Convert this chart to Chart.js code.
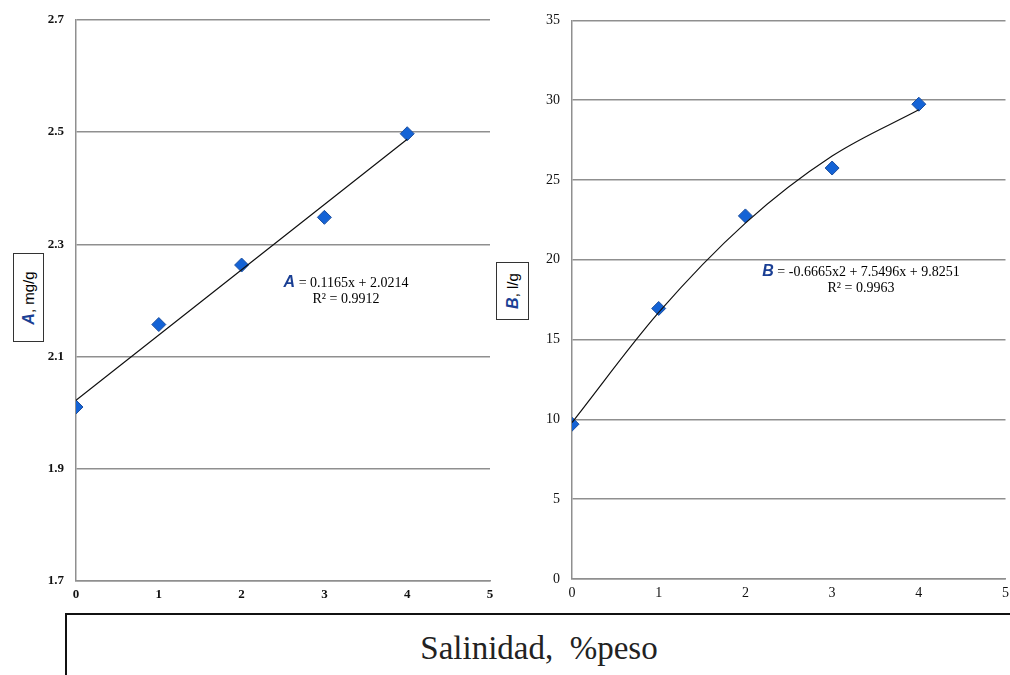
<!DOCTYPE html>
<html>
<head>
<meta charset="utf-8">
<script src="https://cdn.jsdelivr.net/npm/chart.js@4/dist/chart.umd.min.js"></script>
<style>
  body { margin: 0; background: #fff; width: 1010px; height: 675px; overflow: hidden; position: relative; }
  .box { position: absolute; }
  .ytitle { position: absolute; border: 1px solid #333; background: #fff; font-family: "Liberation Sans", Arial, sans-serif; font-size: 15px; }
  .ytitle span.in { position: absolute; left: 50%; top: 50%; transform: translate(-50%, -50%) rotate(-90deg); white-space: nowrap; }
  .sym { color: #1a3f94; font-weight: bold; font-style: italic; font-size: 16px; }
  .eq { position: absolute; font-family: "Liberation Serif", "Times New Roman", serif; font-size: 14px; text-align: center; white-space: nowrap; line-height: 16px; }
  #xbox { position: absolute; left: 65px; top: 613px; width: 960px; height: 70px; border-top: 2px solid #111; border-left: 2px solid #111; }
  #xlabel { position: absolute; left: 0; top: 630px; width: 1078px; text-align: center; font-family: "Liberation Serif", "Times New Roman", serif; font-size: 33px; color: #222; }
</style>
</head>
<body>
<div class="box" style="left:0;top:0;width:505px;height:612px"><canvas id="chartA"></canvas></div>
<div class="box" style="left:505px;top:0;width:510px;height:612px"><canvas id="chartB"></canvas></div>

<div class="ytitle" style="left:13px;top:253px;width:29px;height:87px"><span class="in"><span class="sym">A</span>, mg/g</span></div>
<div class="ytitle" style="left:496px;top:262px;width:31px;height:56px"><span class="in"><span class="sym">B</span>, l/g</span></div>

<div class="eq" style="left:270px;top:274px;width:152px"><span class="sym" style="font-family:'Liberation Sans',sans-serif">A</span> = 0.1165x + 2.0214<br>R² = 0.9912</div>
<div class="eq" style="left:742px;top:263px;width:238px"><span class="sym" style="font-family:'Liberation Sans',sans-serif">B</span> = -0.6665x2 + 7.5496x + 9.8251<br>R² = 0.9963</div>

<div id="xbox"></div>
<div id="xlabel">Salinidad,&nbsp; %peso</div>

<script>
const salinity = [0, 1, 2, 3, 4];
const valuesA = [2.01, 2.157, 2.263, 2.348, 2.497];
const valuesB = [9.7, 16.95, 22.75, 25.75, 29.75];
// trend lines
const trendXA = [0, 4];
const trendA = [2.022, 2.487];
const trendXB = [0, 1, 2, 3, 4];
const trendB = [9.8, 16.7, 22.3, 26.5, 29.4];
const ticksA = [1.7, 1.9, 2.1, 2.3, 2.5, 2.7];
const ticksB = [0, 5, 10, 15, 20, 25, 30, 35];

const blue = '#1463d6';
const gridCol = '#8f8f8f';

function pts(xs, ys) { return xs.map((x, i) => ({ x: x, y: ys[i] })); }

function makeChart(id, vals, tx, ty, yticks, yFmt, yW, xH, padR, tickFont) {
    return new Chart(document.getElementById(id), {
        type: 'scatter',
        data: {
            datasets: [
                {
                    type: 'line',
                    data: pts(tx, ty),
                    borderColor: '#111',
                    borderWidth: 1.2,
                    pointRadius: 0,
                    cubicInterpolationMode: 'monotone',
                    fill: false,
                },
                {
                    data: pts(salinity, vals),
                    pointStyle: 'rectRot',
                    pointRadius: 7,
                    backgroundColor: blue,
                    borderColor: '#1d4f9e',
                    borderWidth: 1,
                }
            ]
        },
        options: {
            responsive: false,
            animation: false,
            devicePixelRatio: 1,
            layout: { padding: { top: 18, right: padR, left: 0, bottom: 0 } },
            plugins: { legend: { display: false }, tooltip: { enabled: false } },
            scales: {
                x: {
                    type: 'linear',
                    min: 0, max: 5,
                    ticks: { stepSize: 1, color: '#111', font: tickFont, padding: 6 },
                    grid: { display: false, drawTicks: false },
                    border: { color: gridCol, width: 1.5 },
                    afterFit: s => { s.height = xH; },
                },
                y: {
                    min: yticks[0], max: yticks[yticks.length - 1],
                    afterBuildTicks: s => { s.ticks = yticks.map(v => ({ value: v })); },
                    ticks: { color: '#111', font: tickFont, padding: 12, callback: yFmt },
                    grid: { color: gridCol, lineWidth: 1.5, drawTicks: false },
                    border: { color: gridCol, width: 1.5 },
                    afterFit: s => { s.width = yW; },
                }
            }
        }
    });
}

const cA = document.getElementById('chartA');
cA.width = 505; cA.height = 612;
const cB = document.getElementById('chartB');
cB.width = 510; cB.height = 612;

makeChart('chartA', valuesA, trendXA, trendA, ticksA, v => Number(v).toFixed(1), 76, 31, 15,
    { family: 'Liberation Serif', size: 13, weight: 'bold' });
makeChart('chartB', valuesB, trendXB, trendB, ticksB, v => v, 67, 33, 0,
    { family: 'Liberation Serif', size: 14 });
</script>
</body>
</html>
